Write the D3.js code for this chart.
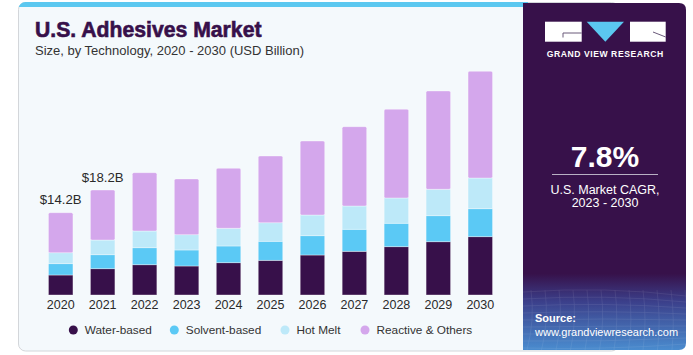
<!DOCTYPE html>
<html>
<head>
<meta charset="utf-8">
<script src="https://cdn.jsdelivr.net/npm/d3@7"></script>
<style>
html,body{margin:0;padding:0;background:#fff;}
svg{display:block;font-family:"Liberation Sans",Arial,sans-serif;}
</style>
</head>
<body>
<svg id="chart" width="693" height="355"></svg>
<script>
const years = ["2020","2021","2022","2023","2024","2025","2026","2027","2028","2029","2030"];
const waterBased = [3.46,4.55,5.24,5.02,5.59,6.00,6.92,7.56,8.36,9.22,10.09];
const solventBased = [1.96,2.42,2.94,2.77,2.89,3.29,3.34,3.81,4.05,4.50,4.84];
const hotMelt = [1.90,2.54,2.89,2.65,3.06,3.22,3.58,4.03,4.38,4.57,5.31];
const reactiveOthers = [6.92,8.65,10.09,9.64,10.38,11.54,12.80,13.72,15.35,17.01,18.46];
const seriesNames = ["Water-based","Solvent-based","Hot Melt","Reactive & Others"];
const seriesColors = ["#37104a","#5bc9f5","#bde9f9","#d4a7ec"];
const valueLabels = [{year:"2020",text:"$14.2B"},{year:"2021",text:"$18.2B"}];

const svg = d3.select("#chart");
const defs = svg.append("defs");

// card
defs.append("clipPath").attr("id","cardClip").append("rect")
  .attr("x",18.5).attr("y",2).attr("width",600).attr("height",349).attr("rx",7);
svg.append("rect").attr("x",18.5).attr("y",2.5).attr("width",600).attr("height",348.5).attr("rx",7)
  .attr("fill","#f4f9fc").attr("stroke","#d3d6da").attr("stroke-width",1);
svg.append("rect").attr("clip-path","url(#cardClip)").attr("x",18).attr("y",1).attr("width",510).attr("height",6)
  .attr("fill","#5bc8f0");

// right panel
const grad = defs.append("linearGradient").attr("id","panelGrad").attr("x1",0).attr("y1",0).attr("x2",0).attr("y2",1);
grad.append("stop").attr("offset","0").attr("stop-color","#37114a");
grad.append("stop").attr("offset","0.78").attr("stop-color","#37114a");
grad.append("stop").attr("offset","0.86").attr("stop-color","#3b3f8a");
grad.append("stop").attr("offset","1").attr("stop-color","#4a8ccf");
const px0=523, py0=3, px1=686, py1=350, r=7;
svg.append("path")
  .attr("d",`M${px0},${py0} H${px1-r} Q${px1},${py0} ${px1},${py0+r} V${py1-r} Q${px1},${py1} ${px1-r},${py1} H${px0} Z`)
  .attr("fill","url(#panelGrad)");
const gridG = svg.append("g").attr("opacity",0.12).attr("stroke","#fff").attr("fill","none").attr("stroke-width",0.6);
for(let i=0;i<9;i++){ gridG.append("path").attr("d",`M${px0},${292+i*7} Q${605},${286+i*8} ${px1},${296+i*6}`); }
for(let i=0;i<12;i++){ gridG.append("path").attr("d",`M${px0+8+i*14},${290} Q${px0+12+i*14},${320} ${px0+4+i*14.5},${350}`); }

// logo
const lg = svg.append("g");
lg.append("rect").attr("x",545).attr("y",21.7).attr("width",36.7).attr("height",20).attr("fill","#fff");
lg.append("path").attr("d","M563,37.5 V33 H581.7").attr("stroke","#6a5a7a").attr("stroke-width",1).attr("fill","none");
lg.append("path").attr("d","M586.7,21.7 L624,21.7 L605.3,41.7 Z").attr("fill","#5bc8f0");
lg.append("rect").attr("x",630).attr("y",21.7).attr("width",35.7).attr("height",20).attr("fill","#fff");
lg.append("path").attr("d","M653,32 L665.7,37").attr("stroke","#6a5a7a").attr("stroke-width",1).attr("fill","none");
lg.append("text").attr("x",605.3).attr("y",56.5).attr("text-anchor","middle").attr("fill","#fff")
  .attr("font-size",8.6).attr("font-weight","bold").attr("letter-spacing",0.55).text("GRAND VIEW RESEARCH");

// CAGR
svg.append("text").attr("x",605).attr("y",166.5).attr("text-anchor","middle").attr("fill","#fff")
  .attr("font-size",30).attr("font-weight","bold").text("7.8%");
svg.append("line").attr("x1",552).attr("x2",658).attr("y1",174.5).attr("y2",174.5).attr("stroke","#b9b0c4").attr("stroke-width",1);
svg.append("text").attr("x",605).attr("y",193.5).attr("text-anchor","middle").attr("fill","#fff")
  .attr("font-size",12.5).text("U.S. Market CAGR,");
svg.append("text").attr("x",605).attr("y",207).attr("text-anchor","middle").attr("fill","#fff")
  .attr("font-size",12.5).text("2023 - 2030");

// source
svg.append("text").attr("x",535).attr("y",322).attr("fill","#fff").attr("font-size",11).attr("font-weight","bold").text("Source:");
svg.append("text").attr("x",535).attr("y",335.5).attr("fill","#fff").attr("font-size",11).text("www.grandviewresearch.com");

// titles
svg.append("text").attr("x",35).attr("y",37).attr("fill","#37104a").attr("stroke","#37104a").attr("stroke-width",0.6)
  .attr("font-size",21.2).attr("font-weight","bold").text("U.S. Adhesives Market");
svg.append("text").attr("x",35).attr("y",55).attr("fill","#333").attr("font-size",13).text("Size, by Technology, 2020 - 2030 (USD Billion)");

// chart
const x = d3.scaleBand().domain(years).range([39.72,501.28]).paddingInner(0.416).paddingOuter(0.208);
const y = d3.scaleLinear().domain([0,40]).range([295,295-40*5.78]);

const rows = years.map((yr,i)=>({year:yr, w:waterBased[i], s:solventBased[i], h:hotMelt[i], r:reactiveOthers[i]}));
const stacked = d3.stack().keys(["w","s","h","r"])(rows);

const barsG = svg.append("g");
stacked.forEach((layer,li)=>{
  barsG.append("g").attr("fill",seriesColors[li])
    .selectAll("rect").data(layer).join("rect")
    .attr("x",d=>x(d.data.year))
    .attr("width",x.bandwidth())
    .attr("y",d=>y(d[1]))
    .attr("height",d=>y(d[0])-y(d[1]))
    .attr("rx", li===3 ? 1.5 : 0)
    .attr("stroke","rgba(255,255,255,0.45)").attr("stroke-width",0.8);
});

// x axis labels
const ax = svg.append("g").attr("transform","translate(0,300)").call(d3.axisBottom(x).tickSize(0).tickPadding(0));
ax.select(".domain").remove();
ax.selectAll("text").attr("font-size",12.5).attr("fill","#2a2a2a").attr("dy","0.72em")
  .attr("font-family","Liberation Sans, Arial, sans-serif");

// value labels
const totals = years.map((yr,i)=>waterBased[i]+solventBased[i]+hotMelt[i]+reactiveOthers[i]);
valueLabels.forEach(v=>{
  const i = years.indexOf(v.year);
  svg.append("text").attr("x",x(v.year)+x.bandwidth()/2).attr("y",y(totals[i])-8.5)
    .attr("text-anchor","middle").attr("fill","#2a2a2a").attr("font-size",13.2).text(v.text);
});

// legend
const legendX = [73.3,174.3,285,365];
const lgd = svg.append("g");
seriesNames.forEach((n,i)=>{
  lgd.append("circle").attr("cx",legendX[i]).attr("cy",330).attr("r",4.5).attr("fill",seriesColors[i]);
  lgd.append("text").attr("x",legendX[i]+11.5).attr("y",334.2).attr("fill","#333").attr("font-size",11.8).text(n);
});
</script>
</body>
</html>
